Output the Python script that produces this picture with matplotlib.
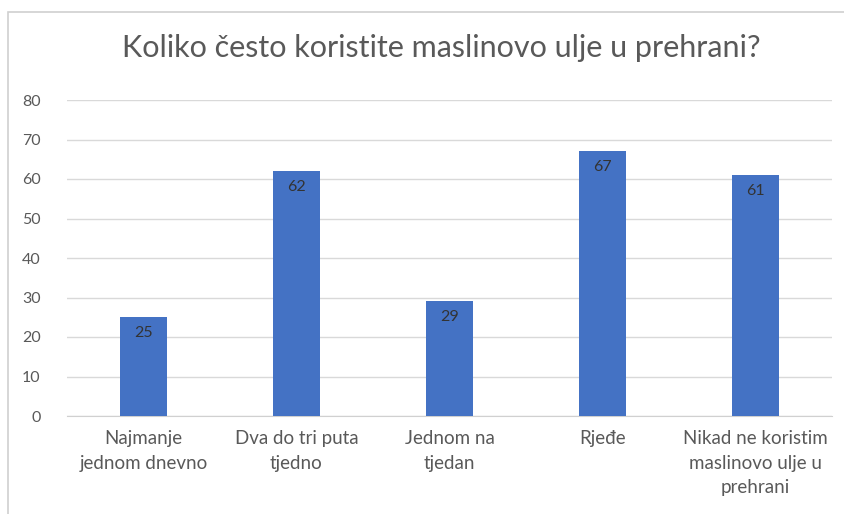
import matplotlib.pyplot as plt
from matplotlib.patches import Rectangle

plt.rcParams['font.family'] = ['Lato', 'DejaVu Sans']

categories = ['Najmanje\njednom dnevno', 'Dva do tri puta\ntjedno', 'Jednom na\ntjedan',
              'Rjeđe', 'Nikad ne koristim\nmaslinovo ulje u\nprehrani']
values = [25, 62, 29, 67, 61]
yticks = [0, 10, 20, 30, 40, 50, 60, 70, 80]

text_col = '#595959'
bar_col = '#4472c4'

fig = plt.figure(figsize=(8.45, 5.14), dpi=100)
frame = Rectangle((8 / 845, -0.01), 1.0, 1 - 12 / 514 + 0.01, transform=fig.transFigure,
                  facecolor='white', edgecolor='#d0d0d0', linewidth=1.2, zorder=-10)
fig.patches.append(frame)
ax = fig.add_axes([67 / 845, 1 - 416 / 514, 765 / 845, 316 / 514])
ax.set_zorder(1)

x = range(len(values))
bars = ax.bar(x, values, width=0.31, color=bar_col, zorder=3)
for xi, v in zip(x, values):
    ax.text(xi, v - 2.2, str(v), ha='center', va='top', fontsize=11.5, color='#333333', zorder=4)

ax.set_xlim(-0.5, len(values) - 0.5)
ax.set_ylim(0, 80)
ax.set_yticks(yticks)
ax.set_xticks(list(x))
ax.set_xticklabels(categories, fontsize=13.5, color=text_col, linespacing=1.55)
ax.tick_params(axis='y', labelsize=11.5, colors=text_col, length=0, pad=19)
ax.tick_params(axis='x', length=0, pad=10)
ax.grid(axis='y', color='#d9d9d9', linewidth=1, zorder=0)
for s in ['top', 'right', 'left']:
    ax.spines[s].set_visible(False)
ax.spines['bottom'].set_color('#d0d0d0')
ax.set_facecolor('none')

fig.text(0.522, 1 - 48 / 514, 'Koliko često koristite maslinovo ulje u prehrani?',
         ha='center', va='center', fontsize=22, color=text_col)

fig.savefig('out.png', dpi=100)
